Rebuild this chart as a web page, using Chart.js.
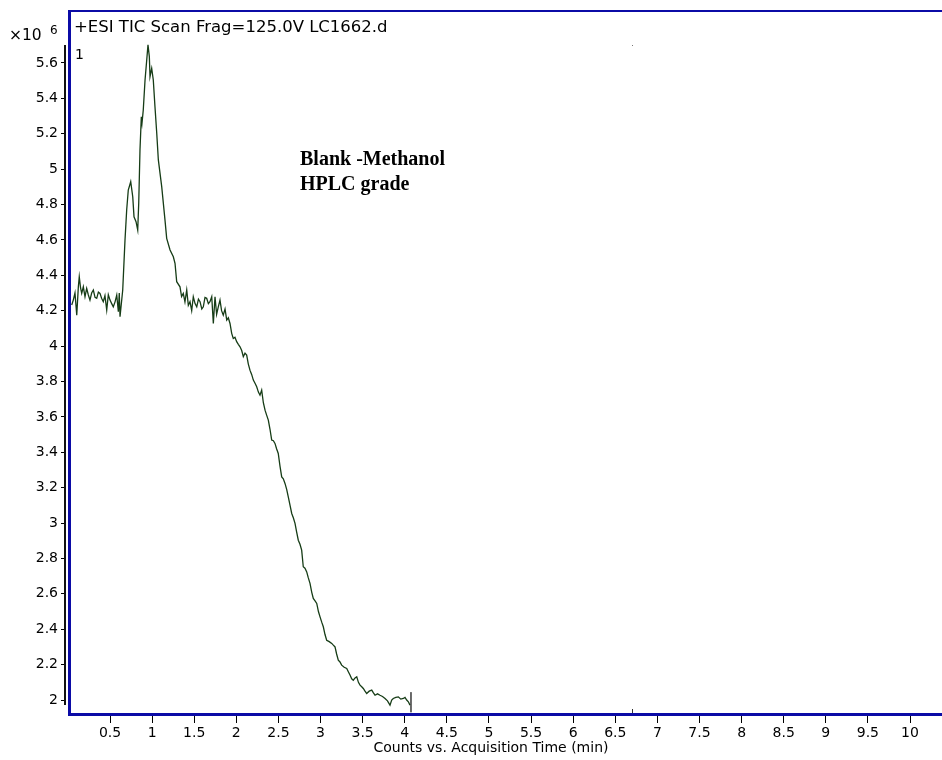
<!DOCTYPE html>
<html>
<head>
<meta charset="utf-8">
<script src="https://cdn.jsdelivr.net/npm/chart.js@4/dist/chart.umd.min.js"></script>
<style>
  html, body { margin: 0; padding: 0; background: #ffffff; }
  #wrap { width: 942px; height: 760px; }
</style>
</head>
<body>
<div id="wrap"><canvas id="tic" width="942" height="760"></canvas></div>
<script>
// Total ion chromatogram, blank run (counts in units of 10^6)
const times = [
  0.045, 0.064, 0.084, 0.105, 0.124, 0.135, 0.150, 0.164, 0.183, 0.203,
  0.223, 0.242, 0.262, 0.282, 0.302, 0.322, 0.342, 0.362, 0.381, 0.400,
  0.420, 0.440, 0.461, 0.480, 0.500, 0.520, 0.539, 0.560, 0.580, 0.599,
  0.610, 0.619, 0.651, 0.678, 0.698, 0.717, 0.746, 0.770, 0.785, 0.809,
  0.829, 0.841, 0.856, 0.872, 0.880, 0.895, 0.916, 0.936, 0.951, 0.967,
  0.975, 0.995, 1.014, 1.034, 1.055, 1.074, 1.114, 1.153, 1.173, 1.213,
  1.252, 1.272, 1.292, 1.331, 1.350, 1.370, 1.390, 1.411, 1.430, 1.450,
  1.470, 1.489, 1.510, 1.530, 1.550, 1.569, 1.590, 1.608, 1.628, 1.648,
  1.668, 1.687, 1.708, 1.727, 1.747, 1.766, 1.786, 1.806, 1.825, 1.845,
  1.866, 1.886, 1.905, 1.925, 1.945, 1.964, 1.984, 2.004, 2.024, 2.044,
  2.064, 2.083, 2.103, 2.123, 2.142, 2.162, 2.182, 2.202, 2.222, 2.242,
  2.262, 2.281, 2.301, 2.321, 2.341, 2.360, 2.380, 2.400, 2.420, 2.440,
  2.459, 2.478, 2.498, 2.519, 2.539, 2.558, 2.578, 2.598, 2.617, 2.638,
  2.658, 2.677, 2.697, 2.716, 2.736, 2.756, 2.776, 2.795, 2.815, 2.836,
  2.855, 2.875, 2.895, 2.914, 2.935, 2.955, 2.975, 2.994, 3.014, 3.033,
  3.053, 3.073, 3.103, 3.133, 3.152, 3.172, 3.191, 3.211, 3.231, 3.251,
  3.281, 3.311, 3.330, 3.350, 3.370, 3.389, 3.410, 3.430, 3.450, 3.469,
  3.489, 3.508, 3.528, 3.548, 3.578, 3.608, 3.628, 3.647, 3.677, 3.706,
  3.736, 3.766, 3.795, 3.825, 3.845, 3.864, 3.894, 3.924, 3.953, 3.983,
  4.003, 4.023, 4.043, 4.062
];
const counts = [
  4.232, 4.260, 4.300, 4.175, 4.335, 4.392, 4.330, 4.298, 4.335, 4.279,
  4.326, 4.290, 4.260, 4.300, 4.317, 4.275, 4.270, 4.305, 4.298, 4.270,
  4.251, 4.285, 4.204, 4.290, 4.260, 4.240, 4.222, 4.250, 4.288, 4.194,
  4.300, 4.166, 4.317, 4.599, 4.769, 4.882, 4.929, 4.844, 4.731, 4.703,
  4.656, 4.807, 5.108, 5.296, 5.260, 5.334, 5.504, 5.617, 5.702, 5.636,
  5.523, 5.570, 5.504, 5.353, 5.203, 5.052, 4.901, 4.712, 4.609, 4.543,
  4.505, 4.468, 4.364, 4.335, 4.280, 4.298, 4.250, 4.317, 4.230, 4.251,
  4.200, 4.279, 4.240, 4.222, 4.265, 4.251, 4.210, 4.222, 4.275, 4.270,
  4.240, 4.251, 4.279, 4.128, 4.279, 4.180, 4.222, 4.260, 4.200, 4.175,
  4.210, 4.147, 4.160, 4.128, 4.072, 4.043, 4.050, 4.025, 4.010, 3.996,
  3.975, 3.940, 3.960, 3.949, 3.900, 3.864, 3.840, 3.808, 3.790, 3.770,
  3.740, 3.723, 3.751, 3.680, 3.638, 3.610, 3.582, 3.530, 3.469, 3.465,
  3.450, 3.420, 3.393, 3.320, 3.261, 3.250, 3.224, 3.190, 3.148, 3.100,
  3.054, 3.030, 2.998, 2.950, 2.903, 2.880, 2.847, 2.753, 2.745, 2.724,
  2.690, 2.659, 2.610, 2.574, 2.560, 2.546, 2.500, 2.470, 2.440, 2.414,
  2.370, 2.338, 2.330, 2.320, 2.310, 2.300, 2.260, 2.225, 2.215, 2.197,
  2.185, 2.178, 2.160, 2.141, 2.120, 2.112, 2.125, 2.131, 2.100, 2.084,
  2.075, 2.065, 2.050, 2.037, 2.050, 2.056, 2.040, 2.027, 2.035, 2.027,
  2.020, 2.009, 1.995, 1.971, 2.000, 2.009, 2.015, 2.018, 2.005, 2.009,
  2.015, 2.000, 1.990, 1.971
];

// End-of-acquisition cursor and event mark
const endCursorTime = 4.074;
const endCursorCounts = [2.044, 1.931];
const eventTimes = [6.7];

// Axis ticks
const xTickValues = [0.5, 1, 1.5, 2, 2.5, 3, 3.5, 4, 4.5, 5, 5.5, 6, 6.5, 7, 7.5, 8, 8.5, 9, 9.5, 10];
const xTickLabels = ['0.5', '1', '1.5', '2', '2.5', '3', '3.5', '4', '4.5', '5', '5.5', '6', '6.5', '7', '7.5', '8', '8.5', '9', '9.5', '10'];
const yTickValues = [2, 2.2, 2.4, 2.6, 2.8, 3, 3.2, 3.4, 3.6, 3.8, 4, 4.2, 4.4, 4.6, 4.8, 5, 5.2, 5.4, 5.6];
const yTickLabels = ['2', '2.2', '2.4', '2.6', '2.8', '3', '3.2', '3.4', '3.6', '3.8', '4', '4.2', '4.4', '4.6', '4.8', '5', '5.2', '5.4', '5.6'];

const headerText = '+ESI TIC Scan Frag=125.0V LC1662.d';
const noteLines = ['Blank -Methanol', 'HPLC grade'];
const xTitle = 'Counts vs. Acquisition Time (min)';

const FRAME = '#0b0ba6';
const TRACE = '#163c16';
const UI_FONT = '"DejaVu Sans", "Liberation Sans", sans-serif';

const traceData = times.map((t, i) => ({ x: t, y: counts[i] }));
const cursorData = endCursorCounts.map(c => ({ x: endCursorTime, y: c }));

// Frame, axis line, header, axis title and notes
const decorations = {
  id: 'decorations',
  afterDraw(chart) {
    const ctx = chart.ctx;
    const a = chart.chartArea;
    const xs = chart.scales.x, ys = chart.scales.y;
    ctx.save();

    // black y-axis line spanning the data range
    const yHi = ys.getPixelForValue(Math.max(...counts));
    const yLo = ys.getPixelForValue(Math.min(...counts));
    ctx.fillStyle = '#111111';
    ctx.fillRect(a.left - 2, Math.round(yHi), 2, Math.round(yLo - yHi));

    // blue plot frame (left, top, bottom)
    ctx.fillStyle = FRAME;
    ctx.fillRect(a.left + 2, a.top - 2, 3, a.bottom - a.top + 4);
    ctx.fillRect(a.left + 2, a.top - 2, a.right - a.left - 2, 2);
    ctx.fillRect(a.left + 2, a.bottom - 1, a.right - a.left - 2, 3);

    // event marks
    eventTimes.forEach(t => {
      const px = Math.round(xs.getPixelForValue(t));
      ctx.fillStyle = '#333333';
      ctx.fillRect(px, a.bottom - 5, 1, 4);
      ctx.fillStyle = '#777777';
      ctx.fillRect(px, a.top + 33, 1, 1);
    });

    // texts
    ctx.fillStyle = '#000000';
    ctx.textBaseline = 'middle';
    ctx.textAlign = 'left';
    ctx.font = '16.5px ' + UI_FONT;
    ctx.fillText(headerText, a.left + 8, a.top + 16);
    ctx.font = '14px ' + UI_FONT;
    ctx.fillText('1', a.left + 9, Math.round(yHi) + 10);
    ctx.font = '15.5px ' + UI_FONT;
    ctx.fillText('\u00d710', 9, a.top + 24);
    ctx.font = '12px ' + UI_FONT;
    ctx.fillText('6', 50, a.top + 19);

    // x-axis title
    ctx.textAlign = 'center';
    ctx.font = '14px ' + UI_FONT;
    ctx.fillText(xTitle, (a.left + a.right) / 2 - 13, a.bottom + 34);

    // sample note
    ctx.textAlign = 'left';
    ctx.font = 'bold 20px "Liberation Serif", "Times New Roman", serif';
    ctx.fillText(noteLines[0], 300, 160);
    ctx.fillText(noteLines[1], 300, 185);
    ctx.restore();
  }
};

new Chart(document.getElementById('tic'), {
  type: 'line',
  data: {
    datasets: [
      {
        data: traceData,
        borderColor: TRACE,
        borderWidth: 1.3,
        pointRadius: 0,
        tension: 0,
        fill: false
      },
      {
        data: cursorData,
        borderColor: '#555555',
        borderWidth: 1,
        pointRadius: 0,
        fill: false
      }
    ]
  },
  options: {
    responsive: false,
    devicePixelRatio: 1,
    animation: false,
    events: [],
    layout: { padding: { top: 12, right: 0, left: 0, bottom: 0 } },
    plugins: {
      legend: { display: false },
      tooltip: { enabled: false },
      title: { display: false }
    },
    scales: {
      x: {
        type: 'linear',
        min: -0.0226,
        max: 10.38,
        afterFit(scale) { scale.height = 46; },
        afterBuildTicks(scale) { scale.ticks = xTickValues.map(v => ({ value: v })); },
        ticks: {
          autoSkip: false,
          maxRotation: 0,
          padding: 2,
          color: '#000000',
          font: { family: UI_FONT, size: 14 },
          callback: (v) => {
            const i = xTickValues.indexOf(v);
            return i >= 0 ? xTickLabels[i] : '';
          }
        },
        grid: { drawOnChartArea: false, drawTicks: true, tickLength: 9, tickColor: '#000000', tickWidth: 1 },
        border: { display: false },
        title: { display: false }
      },
      y: {
        type: 'linear',
        min: 1.921,
        max: 5.888,
        afterFit(scale) { scale.width = 66; },
        afterBuildTicks(scale) { scale.ticks = yTickValues.map(v => ({ value: v })); },
        ticks: {
          autoSkip: false,
          padding: 3,
          color: '#000000',
          font: { family: UI_FONT, size: 14 },
          callback: (v) => {
            const i = yTickValues.findIndex(t => Math.abs(t - v) < 1e-6);
            return i >= 0 ? yTickLabels[i] : '';
          }
        },
        grid: { drawOnChartArea: false, drawTicks: true, tickLength: 5, tickColor: '#000000', tickWidth: 1 },
        border: { display: false }
      }
    }
  },
  plugins: [decorations]
});
</script>
</body>
</html>
